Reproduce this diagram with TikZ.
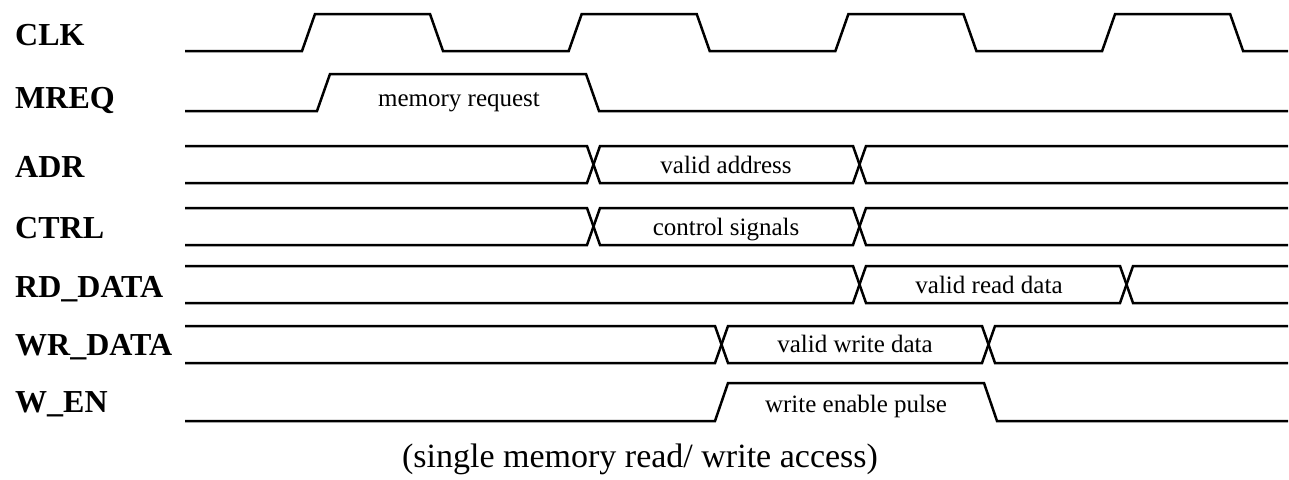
\documentclass[tikz,border=0pt]{standalone}
\usepackage{fontspec}
\setmainfont{Liberation Serif}

\tikzset{
  wave/.style={line width=2.5pt},
  siglabel/.style={anchor=base west, inner sep=0pt, font=\fontsize{32}{38}\selectfont\bfseries},
  phase/.style={anchor=base, inner sep=0pt, font=\fontsize{25}{30}\selectfont}
}

\begin{document}
\begin{tikzpicture}[x=1pt, y=-1pt]
\useasboundingbox (0,0) rectangle (1289,479);

% Signal names
\node[siglabel] (clk) at (15,45) {CLK};
\node[siglabel] (mreq) at (15,108) {MREQ};
\node[siglabel] (adr) at (15,177) {ADR};
\node[siglabel] (ctrl) at (15,238) {CTRL};
\node[siglabel] (rddata) at (15,297) {RD\_DATA};
\node[siglabel] (wrdata) at (15,355) {WR\_DATA};
\node[siglabel] (wen) at (15,412) {W\_EN};

% Clock
\draw[wave] (185,51)
  \foreach \k in {0,...,3} { -- ({302+266.7*\k},51) -- ++(13,-37) -- ++(115,0) -- ++(13,37) }
  -- (1288,51);

% Memory request
\draw[wave] (185,111) -- (317,111) -- (330,74) -- (586,74) -- (599,111) -- (1288,111);
\node[phase] (memreq) at (459,106) {memory request};

% Bus signals (top edge / first crossing / second crossing)
\foreach \row/\xa/\xb in {146/587/853, 208/587/853, 266/853/1120, 326/715/982}
{
  \draw[wave] (185,\row) -- (\xa,\row) -- ({\xa+13},{\row+37}) -- (\xb,{\row+37}) -- ({\xb+13},\row) -- (1288,\row);
  \draw[wave] (185,{\row+37}) -- (\xa,{\row+37}) -- ({\xa+13},\row) -- (\xb,\row) -- ({\xb+13},{\row+37}) -- (1288,{\row+37});
}

% Bus phases
\node[phase] (validadr) at (726,173) {valid address};
\node[phase] (ctrlsig) at (726,235) {control signals};
\node[phase] (validrd) at (989,293) {valid read data};
\node[phase] (validwr) at (855,352) {valid write data};

% Write enable
\draw[wave] (185,421) -- (715,421) -- (728,383) -- (984,383) -- (997,421) -- (1288,421);
\node[phase] (wepulse) at (856,412) {write enable pulse};

% Caption
\node[anchor=base, inner sep=0pt, font=\fontsize{34}{40}\selectfont] (access) at (640,467) {(single memory read/ write access)};

\end{tikzpicture}
\end{document}
